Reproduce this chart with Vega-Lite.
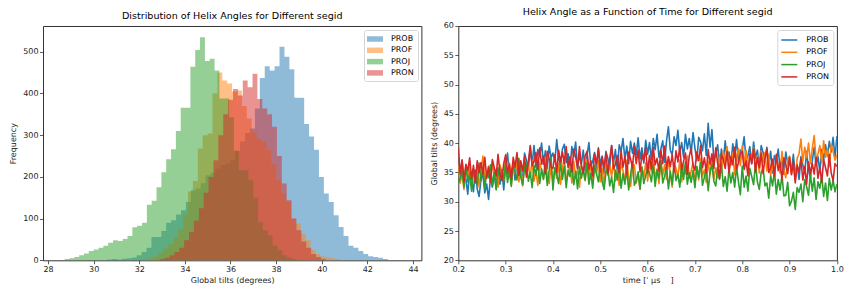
{
  "$schema": "https://vega.github.io/schema/vega-lite/v6.json",
  "padding": {"left": 9, "top": 6, "right": 0, "bottom": 0},
  "spacing": 36.3,
  "bounds": "flush",
  "resolve": {"scale": {"color": "independent"}, "legend": {"color": "independent"}},
  "datasets": {
    "hist": [
      {"s":"PROB","x":30.59,"n":2},{"s":"PROB","x":30.806,"n":3},{"s":"PROB","x":31.022,"n":2},{"s":"PROB","x":31.238,"n":4},{"s":"PROB","x":31.454,"n":5},{"s":"PROB","x":31.67,"n":7},{"s":"PROB","x":31.886,"n":12},{"s":"PROB","x":32.102,"n":20},{"s":"PROB","x":32.318,"n":30},{"s":"PROB","x":32.534,"n":56},
      {"s":"PROB","x":32.75,"n":56},{"s":"PROB","x":32.966,"n":70},{"s":"PROB","x":33.182,"n":90},{"s":"PROB","x":33.398,"n":96},{"s":"PROB","x":33.614,"n":110},{"s":"PROB","x":33.83,"n":120},{"s":"PROB","x":34.046,"n":140},{"s":"PROB","x":34.262,"n":168},{"s":"PROB","x":34.478,"n":172},{"s":"PROB","x":34.694,"n":185},
      {"s":"PROB","x":34.91,"n":204},{"s":"PROB","x":35.126,"n":210},{"s":"PROB","x":35.342,"n":220},{"s":"PROB","x":35.558,"n":228},{"s":"PROB","x":35.774,"n":232},{"s":"PROB","x":35.99,"n":240},{"s":"PROB","x":36.206,"n":262},{"s":"PROB","x":36.422,"n":285},{"s":"PROB","x":36.638,"n":305},{"s":"PROB","x":36.854,"n":316},
      {"s":"PROB","x":37.07,"n":364},{"s":"PROB","x":37.286,"n":437},{"s":"PROB","x":37.502,"n":465},{"s":"PROB","x":37.718,"n":455},{"s":"PROB","x":37.934,"n":465},{"s":"PROB","x":38.15,"n":512},{"s":"PROB","x":38.366,"n":488},{"s":"PROB","x":38.582,"n":458},{"s":"PROB","x":38.798,"n":390},{"s":"PROB","x":39.014,"n":390},
      {"s":"PROB","x":39.23,"n":327},{"s":"PROB","x":39.446,"n":297},{"s":"PROB","x":39.662,"n":265},{"s":"PROB","x":39.878,"n":200},{"s":"PROB","x":40.094,"n":160},{"s":"PROB","x":40.31,"n":140},{"s":"PROB","x":40.526,"n":108},{"s":"PROB","x":40.742,"n":80},{"s":"PROB","x":40.958,"n":58},{"s":"PROB","x":41.174,"n":35},
      {"s":"PROB","x":41.39,"n":30},{"s":"PROB","x":41.606,"n":22},{"s":"PROB","x":41.822,"n":15},{"s":"PROB","x":42.038,"n":10},{"s":"PROB","x":42.254,"n":8},{"s":"PROB","x":42.47,"n":6},{"s":"PROB","x":42.686,"n":3},{"s":"PROB","x":42.902,"n":1},{"s":"PROB","x":43.118,"n":1},

      {"s":"PROF","x":32.2,"n":2},{"s":"PROF","x":32.415,"n":5},{"s":"PROF","x":32.63,"n":10},{"s":"PROF","x":32.845,"n":18},{"s":"PROF","x":33.06,"n":28},{"s":"PROF","x":33.275,"n":40},{"s":"PROF","x":33.49,"n":55},{"s":"PROF","x":33.705,"n":75},{"s":"PROF","x":33.92,"n":110},{"s":"PROF","x":34.135,"n":165},
      {"s":"PROF","x":34.35,"n":190},{"s":"PROF","x":34.565,"n":268},{"s":"PROF","x":34.78,"n":300},{"s":"PROF","x":34.995,"n":304},{"s":"PROF","x":35.21,"n":400},{"s":"PROF","x":35.425,"n":450},{"s":"PROF","x":35.64,"n":431},{"s":"PROF","x":35.855,"n":424},{"s":"PROF","x":36.07,"n":405},{"s":"PROF","x":36.285,"n":407},
      {"s":"PROF","x":36.5,"n":370},{"s":"PROF","x":36.715,"n":340},{"s":"PROF","x":36.93,"n":307},{"s":"PROF","x":37.145,"n":290},{"s":"PROF","x":37.36,"n":284},{"s":"PROF","x":37.575,"n":264},{"s":"PROF","x":37.79,"n":230},{"s":"PROF","x":38.005,"n":192},{"s":"PROF","x":38.22,"n":160},{"s":"PROF","x":38.435,"n":140},
      {"s":"PROF","x":38.65,"n":100},{"s":"PROF","x":38.865,"n":88},{"s":"PROF","x":39.08,"n":64},{"s":"PROF","x":39.295,"n":48},{"s":"PROF","x":39.51,"n":25},{"s":"PROF","x":39.725,"n":15},{"s":"PROF","x":39.94,"n":9},{"s":"PROF","x":40.155,"n":7},{"s":"PROF","x":40.37,"n":5},{"s":"PROF","x":40.585,"n":3},{"s":"PROF","x":40.8,"n":1},{"s":"PROF","x":41.015,"n":1},

      {"s":"PROJ","x":28.73,"n":3},{"s":"PROJ","x":28.942,"n":5},{"s":"PROJ","x":29.154,"n":8},{"s":"PROJ","x":29.366,"n":12},{"s":"PROJ","x":29.578,"n":16},{"s":"PROJ","x":29.79,"n":22},{"s":"PROJ","x":30.002,"n":26},{"s":"PROJ","x":30.214,"n":30},{"s":"PROJ","x":30.426,"n":35},{"s":"PROJ","x":30.638,"n":42},
      {"s":"PROJ","x":30.85,"n":48},{"s":"PROJ","x":31.062,"n":46},{"s":"PROJ","x":31.274,"n":51},{"s":"PROJ","x":31.486,"n":58},{"s":"PROJ","x":31.698,"n":79},{"s":"PROJ","x":31.91,"n":83},{"s":"PROJ","x":32.122,"n":90},{"s":"PROJ","x":32.334,"n":133},{"s":"PROJ","x":32.546,"n":143},{"s":"PROJ","x":32.758,"n":175},
      {"s":"PROJ","x":32.97,"n":211},{"s":"PROJ","x":33.182,"n":242},{"s":"PROJ","x":33.394,"n":266},{"s":"PROJ","x":33.606,"n":310},{"s":"PROJ","x":33.818,"n":366},{"s":"PROJ","x":34.03,"n":366},{"s":"PROJ","x":34.242,"n":464},{"s":"PROJ","x":34.454,"n":504},{"s":"PROJ","x":34.666,"n":535},{"s":"PROJ","x":34.878,"n":478},
      {"s":"PROJ","x":35.09,"n":483},{"s":"PROJ","x":35.302,"n":455},{"s":"PROJ","x":35.514,"n":388},{"s":"PROJ","x":35.726,"n":388},{"s":"PROJ","x":35.938,"n":343},{"s":"PROJ","x":36.15,"n":263},{"s":"PROJ","x":36.362,"n":216},{"s":"PROJ","x":36.574,"n":216},{"s":"PROJ","x":36.786,"n":192},{"s":"PROJ","x":36.998,"n":150},
      {"s":"PROJ","x":37.21,"n":92},{"s":"PROJ","x":37.422,"n":72},{"s":"PROJ","x":37.634,"n":60},{"s":"PROJ","x":37.846,"n":35},{"s":"PROJ","x":38.058,"n":24},{"s":"PROJ","x":38.27,"n":12},{"s":"PROJ","x":38.482,"n":6},{"s":"PROJ","x":38.694,"n":3},{"s":"PROJ","x":38.906,"n":1},{"s":"PROJ","x":39.118,"n":1},

      {"s":"PRON","x":32.9,"n":3},{"s":"PRON","x":33.114,"n":6},{"s":"PRON","x":33.328,"n":12},{"s":"PRON","x":33.542,"n":20},{"s":"PRON","x":33.756,"n":30},{"s":"PRON","x":33.97,"n":48},{"s":"PRON","x":34.184,"n":68},{"s":"PRON","x":34.398,"n":95},{"s":"PRON","x":34.612,"n":125},{"s":"PRON","x":34.826,"n":162},
      {"s":"PRON","x":35.04,"n":200},{"s":"PRON","x":35.254,"n":240},{"s":"PRON","x":35.468,"n":300},{"s":"PRON","x":35.682,"n":350},{"s":"PRON","x":35.896,"n":385},{"s":"PRON","x":36.11,"n":411},{"s":"PRON","x":36.324,"n":395},{"s":"PRON","x":36.538,"n":431},{"s":"PRON","x":36.752,"n":415},{"s":"PRON","x":36.966,"n":447},
      {"s":"PRON","x":37.18,"n":387},{"s":"PRON","x":37.394,"n":364},{"s":"PRON","x":37.608,"n":350},{"s":"PRON","x":37.822,"n":320},{"s":"PRON","x":38.036,"n":250},{"s":"PRON","x":38.25,"n":184},{"s":"PRON","x":38.464,"n":144},{"s":"PRON","x":38.678,"n":100},{"s":"PRON","x":38.892,"n":72},{"s":"PRON","x":39.106,"n":45},
      {"s":"PRON","x":39.32,"n":30},{"s":"PRON","x":39.534,"n":15},{"s":"PRON","x":39.748,"n":8},{"s":"PRON","x":39.962,"n":3},{"s":"PRON","x":40.176,"n":3}
    ],
    "ts": [
      {"t":0.200,"PROB":36.2,"PROF":36.3,"PROJ":33.1,"PRON":39.3},
      {"t":0.204,"PROB":34.2,"PROF":33.2,"PROJ":33.9,"PRON":34.8},
      {"t":0.208,"PROB":37.1,"PROF":34.7,"PROJ":35.4,"PRON":37.1},
      {"t":0.212,"PROB":33.5,"PROF":32.1,"PROJ":32.5,"PRON":33.4},
      {"t":0.216,"PROB":33.9,"PROF":35.9,"PROJ":36.2,"PRON":36.4},
      {"t":0.220,"PROB":31.3,"PROF":34.2,"PROJ":33.4,"PRON":35.3},
      {"t":0.224,"PROB":35.2,"PROF":36.7,"PROJ":34.8,"PRON":37.5},
      {"t":0.228,"PROB":33.8,"PROF":32.8,"PROJ":31.8,"PRON":33.9},
      {"t":0.232,"PROB":31.7,"PROF":35.3,"PROJ":35.6,"PRON":36.2},
      {"t":0.236,"PROB":35.4,"PROF":33.5,"PROJ":34.4,"PRON":33.2},
      {"t":0.240,"PROB":32.2,"PROF":36.0,"PROJ":32.9,"PRON":37.0},
      {"t":0.244,"PROB":30.9,"PROF":32.5,"PROJ":36.6,"PRON":35.0},
      {"t":0.248,"PROB":33.8,"PROF":35.1,"PROJ":33.6,"PRON":36.7},
      {"t":0.252,"PROB":34.6,"PROF":37.8,"PROJ":35.9,"PRON":34.7},
      {"t":0.256,"PROB":31.5,"PROF":33.8,"PROJ":32.2,"PRON":37.6},
      {"t":0.260,"PROB":33.0,"PROF":34.6,"PROJ":35.2,"PRON":34.0},
      {"t":0.264,"PROB":30.4,"PROF":36.1,"PROJ":34.1,"PRON":35.9},
      {"t":0.268,"PROB":34.2,"PROF":33.2,"PROJ":36.3,"PRON":33.3},
      {"t":0.272,"PROB":32.5,"PROF":36.9,"PROJ":32.7,"PRON":37.2},
      {"t":0.276,"PROB":35.0,"PROF":34.1,"PROJ":35.0,"PRON":35.8},
      {"t":0.280,"PROB":32.3,"PROF":35.5,"PROJ":32.0,"PRON":34.4},
      {"t":0.284,"PROB":34.8,"PROF":32.5,"PROJ":35.8,"PRON":38.1},
      {"t":0.288,"PROB":33.0,"PROF":36.3,"PROJ":33.8,"PRON":34.9},
      {"t":0.292,"PROB":35.5,"PROF":35.1,"PROJ":35.5,"PRON":33.6},
      {"t":0.296,"PROB":32.0,"PROF":33.6,"PROJ":33.5,"PRON":36.5},
      {"t":0.300,"PROB":36.1,"PROF":37.3,"PROJ":36.9,"PRON":38.0},
      {"t":0.304,"PROB":38.3,"PROF":34.3,"PROJ":33.3,"PRON":34.9},
      {"t":0.308,"PROB":34.3,"PROF":36.6,"PROJ":35.2,"PRON":36.4},
      {"t":0.312,"PROB":35.1,"PROF":32.9,"PROJ":32.6,"PRON":33.8},
      {"t":0.316,"PROB":36.6,"PROF":35.9,"PROJ":36.5,"PRON":37.6},
      {"t":0.320,"PROB":33.7,"PROF":34.8,"PROJ":35.1,"PRON":35.9},
      {"t":0.324,"PROB":37.4,"PROF":37.0,"PROJ":33.7,"PRON":38.4},
      {"t":0.328,"PROB":34.6,"PROF":33.4,"PROJ":37.4,"PRON":34.5},
      {"t":0.332,"PROB":36.0,"PROF":35.7,"PROJ":34.2,"PRON":37.0},
      {"t":0.336,"PROB":33.0,"PROF":32.7,"PROJ":32.9,"PRON":35.2},
      {"t":0.340,"PROB":38.3,"PROF":36.5,"PROJ":35.8,"PRON":37.7},
      {"t":0.344,"PROB":37.1,"PROF":34.5,"PROJ":36.6,"PRON":34.2},
      {"t":0.348,"PROB":35.6,"PROF":36.2,"PROJ":33.5,"PRON":36.8},
      {"t":0.352,"PROB":39.3,"PROF":34.2,"PROJ":35.0,"PRON":39.6},
      {"t":0.356,"PROB":36.3,"PROF":37.1,"PROJ":32.4,"PRON":36.1},
      {"t":0.360,"PROB":39.6,"PROF":33.5,"PROJ":36.2,"PRON":36.9},
      {"t":0.364,"PROB":35.9,"PROF":35.4,"PROJ":34.5,"PRON":38.4},
      {"t":0.368,"PROB":38.9,"PROF":32.8,"PROJ":37.0,"PRON":35.5},
      {"t":0.372,"PROB":37.8,"PROF":36.7,"PROJ":33.1,"PRON":39.2},
      {"t":0.376,"PROB":40.0,"PROF":35.3,"PROJ":35.6,"PRON":36.4},
      {"t":0.380,"PROB":36.4,"PROF":33.9,"PROJ":33.8,"PRON":37.8},
      {"t":0.384,"PROB":38.7,"PROF":37.6,"PROJ":36.3,"PRON":34.8},
      {"t":0.388,"PROB":35.7,"PROF":34.4,"PROJ":32.8,"PRON":38.6},
      {"t":0.392,"PROB":39.5,"PROF":33.1,"PROJ":35.4,"PRON":37.4},
      {"t":0.396,"PROB":37.5,"PROF":36.0,"PROJ":37.6,"PRON":35.9},
      {"t":0.400,"PROB":38.3,"PROF":33.3,"PROJ":32.0,"PRON":35.7},
      {"t":0.404,"PROB":36.9,"PROF":35.8,"PROJ":35.8,"PRON":38.0},
      {"t":0.408,"PROB":40.6,"PROF":34.0,"PROJ":34.6,"PRON":35.0},
      {"t":0.412,"PROB":37.4,"PROF":36.5,"PROJ":33.1,"PRON":38.8},
      {"t":0.416,"PROB":36.1,"PROF":33.0,"PROJ":36.8,"PRON":36.8},
      {"t":0.420,"PROB":39.0,"PROF":35.6,"PROJ":33.8,"PRON":38.5},
      {"t":0.424,"PROB":39.8,"PROF":37.8,"PROJ":36.1,"PRON":36.5},
      {"t":0.428,"PROB":36.7,"PROF":33.8,"PROJ":32.4,"PRON":39.4},
      {"t":0.432,"PROB":38.2,"PROF":34.6,"PROJ":35.4,"PRON":35.8},
      {"t":0.436,"PROB":35.6,"PROF":36.1,"PROJ":34.3,"PRON":37.7},
      {"t":0.440,"PROB":39.4,"PROF":33.2,"PROJ":36.5,"PRON":35.1},
      {"t":0.444,"PROB":37.7,"PROF":36.9,"PROJ":32.9,"PRON":39.0},
      {"t":0.448,"PROB":40.2,"PROF":34.1,"PROJ":35.2,"PRON":37.6},
      {"t":0.452,"PROB":35.6,"PROF":35.5,"PROJ":32.2,"PRON":35.7},
      {"t":0.456,"PROB":38.1,"PROF":32.5,"PROJ":36.0,"PRON":39.4},
      {"t":0.460,"PROB":36.3,"PROF":36.3,"PROJ":34.0,"PRON":36.2},
      {"t":0.464,"PROB":38.8,"PROF":35.1,"PROJ":35.7,"PRON":34.9},
      {"t":0.468,"PROB":35.3,"PROF":33.6,"PROJ":33.7,"PRON":37.8},
      {"t":0.472,"PROB":37.9,"PROF":37.3,"PROJ":36.6,"PRON":38.6},
      {"t":0.476,"PROB":40.1,"PROF":34.3,"PROJ":33.0,"PRON":35.5},
      {"t":0.480,"PROB":36.1,"PROF":36.6,"PROJ":34.9,"PRON":37.0},
      {"t":0.484,"PROB":36.9,"PROF":32.9,"PROJ":32.3,"PRON":34.4},
      {"t":0.488,"PROB":38.4,"PROF":35.9,"PROJ":36.2,"PRON":38.2},
      {"t":0.492,"PROB":35.5,"PROF":34.8,"PROJ":34.8,"PRON":36.5},
      {"t":0.496,"PROB":39.2,"PROF":37.0,"PROJ":33.4,"PRON":39.0},
      {"t":0.500,"PROB":36.4,"PROF":33.4,"PROJ":36.6,"PRON":35.1},
      {"t":0.504,"PROB":37.8,"PROF":35.7,"PROJ":33.4,"PRON":37.6},
      {"t":0.508,"PROB":34.8,"PROF":32.7,"PROJ":32.1,"PRON":35.8},
      {"t":0.512,"PROB":38.6,"PROF":36.5,"PROJ":35.0,"PRON":38.3},
      {"t":0.516,"PROB":37.4,"PROF":34.5,"PROJ":35.8,"PRON":34.8},
      {"t":0.520,"PROB":35.9,"PROF":36.2,"PROJ":32.7,"PRON":37.4},
      {"t":0.524,"PROB":39.6,"PROF":34.2,"PROJ":34.2,"PRON":39.6},
      {"t":0.528,"PROB":36.6,"PROF":37.1,"PROJ":31.6,"PRON":35.6},
      {"t":0.532,"PROB":38.9,"PROF":33.5,"PROJ":35.4,"PRON":36.4},
      {"t":0.536,"PROB":35.2,"PROF":35.4,"PROJ":33.7,"PRON":37.9},
      {"t":0.540,"PROB":39.7,"PROF":32.8,"PROJ":36.2,"PRON":35.0},
      {"t":0.544,"PROB":38.6,"PROF":36.7,"PROJ":32.3,"PRON":38.7},
      {"t":0.548,"PROB":40.8,"PROF":35.3,"PROJ":34.8,"PRON":35.9},
      {"t":0.552,"PROB":37.2,"PROF":33.4,"PROJ":33.0,"PRON":37.7},
      {"t":0.556,"PROB":39.5,"PROF":37.1,"PROJ":35.5,"PRON":34.7},
      {"t":0.560,"PROB":36.5,"PROF":33.9,"PROJ":32.0,"PRON":38.5},
      {"t":0.564,"PROB":40.3,"PROF":32.6,"PROJ":34.6,"PRON":37.3},
      {"t":0.568,"PROB":38.3,"PROF":35.5,"PROJ":36.8,"PRON":35.8},
      {"t":0.572,"PROB":40.0,"PROF":36.3,"PROJ":32.8,"PRON":39.5},
      {"t":0.576,"PROB":38.0,"PROF":33.2,"PROJ":33.6,"PRON":36.5},
      {"t":0.580,"PROB":40.9,"PROF":34.7,"PROJ":35.1,"PRON":38.8},
      {"t":0.584,"PROB":37.3,"PROF":32.1,"PROJ":32.2,"PRON":35.1},
      {"t":0.588,"PROB":39.2,"PROF":35.9,"PROJ":35.9,"PRON":38.1},
      {"t":0.592,"PROB":36.6,"PROF":34.2,"PROJ":33.1,"PRON":37.0},
      {"t":0.596,"PROB":40.5,"PROF":36.7,"PROJ":34.5,"PRON":39.2},
      {"t":0.600,"PROB":38.1,"PROF":33.5,"PROJ":35.7,"PRON":34.9},
      {"t":0.604,"PROB":40.1,"PROF":36.6,"PROJ":34.9,"PRON":37.9},
      {"t":0.608,"PROB":37.2,"PROF":35.1,"PROJ":33.4,"PRON":35.6},
      {"t":0.612,"PROB":40.8,"PROF":37.7,"PROJ":36.3,"PRON":39.3},
      {"t":0.616,"PROB":38.9,"PROF":33.9,"PROJ":32.6,"PRON":36.3},
      {"t":0.620,"PROB":41.5,"PROF":35.6,"PROJ":35.4,"PRON":37.4},
      {"t":0.624,"PROB":37.6,"PROF":33.1,"PROJ":34.0,"PRON":35.2},
      {"t":0.628,"PROB":39.0,"PROF":37.0,"PROJ":37.0,"PRON":38.8},
      {"t":0.632,"PROB":40.4,"PROF":34.5,"PROJ":33.2,"PRON":36.5},
      {"t":0.636,"PROB":36.7,"PROF":36.3,"PROJ":34.4,"PRON":39.5},
      {"t":0.640,"PROB":40.4,"PROF":33.8,"PROJ":35.9,"PRON":35.7},
      {"t":0.644,"PROB":42.8,"PROF":37.3,"PROJ":32.2,"PRON":37.7},
      {"t":0.648,"PROB":38.8,"PROF":34.7,"PROJ":35.2,"PRON":36.0},
      {"t":0.652,"PROB":38.0,"PROF":32.5,"PROJ":32.9,"PRON":38.0},
      {"t":0.656,"PROB":41.1,"PROF":36.5,"PROJ":36.6,"PRON":35.1},
      {"t":0.660,"PROB":39.6,"PROF":35.7,"PROJ":33.6,"PRON":38.7},
      {"t":0.664,"PROB":42.2,"PROF":34.2,"PROJ":34.7,"PRON":36.8},
      {"t":0.668,"PROB":38.4,"PROF":37.1,"PROJ":32.5,"PRON":39.4},
      {"t":0.672,"PROB":40.1,"PROF":33.4,"PROJ":36.1,"PRON":35.5},
      {"t":0.676,"PROB":37.6,"PROF":36.2,"PROJ":33.8,"PRON":36.9},
      {"t":0.680,"PROB":41.5,"PROF":34.8,"PROJ":36.8,"PRON":38.3},
      {"t":0.684,"PROB":39.0,"PROF":37.8,"PROJ":33.0,"PRON":34.6},
      {"t":0.688,"PROB":40.8,"PROF":34.0,"PROJ":35.0,"PRON":37.8},
      {"t":0.692,"PROB":38.3,"PROF":35.2,"PROJ":33.3,"PRON":39.1},
      {"t":0.696,"PROB":41.8,"PROF":36.7,"PROJ":35.3,"PRON":36.2},
      {"t":0.700,"PROB":39.2,"PROF":33.0,"PROJ":32.4,"PRON":35.4},
      {"t":0.704,"PROB":37.0,"PROF":36.0,"PROJ":36.0,"PRON":38.5},
      {"t":0.708,"PROB":41.0,"PROF":33.7,"PROJ":34.1,"PRON":37.0},
      {"t":0.712,"PROB":40.2,"PROF":37.4,"PROJ":36.7,"PRON":39.6},
      {"t":0.716,"PROB":38.7,"PROF":34.4,"PROJ":32.8,"PRON":35.8},
      {"t":0.720,"PROB":41.6,"PROF":35.5,"PROJ":34.2,"PRON":37.5},
      {"t":0.724,"PROB":37.9,"PROF":33.3,"PROJ":35.6,"PRON":35.0},
      {"t":0.728,"PROB":43.4,"PROF":36.9,"PROJ":31.9,"PRON":38.9},
      {"t":0.732,"PROB":39.3,"PROF":34.6,"PROJ":35.1,"PRON":36.4},
      {"t":0.736,"PROB":42.3,"PROF":37.6,"PROJ":36.4,"PRON":38.2},
      {"t":0.740,"PROB":37.0,"PROF":33.8,"PROJ":33.5,"PRON":35.7},
      {"t":0.744,"PROB":38.2,"PROF":35.8,"PROJ":32.7,"PRON":39.2},
      {"t":0.748,"PROB":39.7,"PROF":34.1,"PROJ":35.8,"PRON":36.6},
      {"t":0.752,"PROB":36.0,"PROF":38.0,"PROJ":33.8,"PRON":34.0},
      {"t":0.756,"PROB":39.0,"PROF":35.1,"PROJ":36.4,"PRON":38.0},
      {"t":0.760,"PROB":36.7,"PROF":38.7,"PROJ":32.6,"PRON":37.2},
      {"t":0.764,"PROB":40.4,"PROF":36.8,"PROJ":34.3,"PRON":35.7},
      {"t":0.768,"PROB":37.4,"PROF":39.4,"PROJ":31.8,"PRON":38.6},
      {"t":0.772,"PROB":38.5,"PROF":35.5,"PROJ":35.7,"PRON":34.9},
      {"t":0.776,"PROB":36.3,"PROF":36.9,"PROJ":33.2,"PRON":37.7},
      {"t":0.780,"PROB":39.9,"PROF":38.3,"PROJ":35.0,"PRON":36.3},
      {"t":0.784,"PROB":37.6,"PROF":34.6,"PROJ":32.5,"PRON":39.3},
      {"t":0.788,"PROB":40.6,"PROF":37.8,"PROJ":36.0,"PRON":35.5},
      {"t":0.792,"PROB":36.8,"PROF":39.1,"PROJ":33.4,"PRON":36.7},
      {"t":0.796,"PROB":38.8,"PROF":36.2,"PROJ":31.2,"PRON":38.2},
      {"t":0.800,"PROB":38.9,"PROF":39.5,"PROJ":36.1,"PRON":38.6},
      {"t":0.804,"PROB":41.1,"PROF":36.5,"PROJ":32.5,"PRON":35.5},
      {"t":0.808,"PROB":37.1,"PROF":38.8,"PROJ":34.4,"PRON":37.0},
      {"t":0.812,"PROB":37.9,"PROF":35.1,"PROJ":31.8,"PRON":34.4},
      {"t":0.816,"PROB":39.4,"PROF":38.1,"PROJ":35.7,"PRON":38.2},
      {"t":0.820,"PROB":36.5,"PROF":37.0,"PROJ":34.3,"PRON":36.5},
      {"t":0.824,"PROB":40.2,"PROF":39.2,"PROJ":32.9,"PRON":39.0},
      {"t":0.828,"PROB":37.4,"PROF":35.6,"PROJ":36.6,"PRON":35.1},
      {"t":0.832,"PROB":38.8,"PROF":37.9,"PROJ":33.4,"PRON":37.6},
      {"t":0.836,"PROB":35.8,"PROF":34.9,"PROJ":32.1,"PRON":35.8},
      {"t":0.840,"PROB":39.6,"PROF":38.7,"PROJ":35.0,"PRON":38.3},
      {"t":0.844,"PROB":38.4,"PROF":36.7,"PROJ":35.8,"PRON":34.8},
      {"t":0.848,"PROB":36.9,"PROF":38.4,"PROJ":32.7,"PRON":37.4},
      {"t":0.852,"PROB":39.3,"PROF":35.2,"PROJ":33.2,"PRON":39.0},
      {"t":0.856,"PROB":36.3,"PROF":38.1,"PROJ":30.6,"PRON":35.0},
      {"t":0.860,"PROB":38.6,"PROF":34.5,"PROJ":34.4,"PRON":35.8},
      {"t":0.864,"PROB":34.9,"PROF":36.4,"PROJ":32.7,"PRON":37.3},
      {"t":0.868,"PROB":37.9,"PROF":33.8,"PROJ":35.2,"PRON":34.4},
      {"t":0.872,"PROB":36.8,"PROF":37.7,"PROJ":31.3,"PRON":38.1},
      {"t":0.876,"PROB":39.0,"PROF":36.3,"PROJ":33.8,"PRON":35.3},
      {"t":0.880,"PROB":35.4,"PROF":34.9,"PROJ":32.0,"PRON":36.7},
      {"t":0.884,"PROB":37.7,"PROF":38.6,"PROJ":34.5,"PRON":33.7},
      {"t":0.888,"PROB":34.7,"PROF":35.4,"PROJ":31.0,"PRON":37.5},
      {"t":0.892,"PROB":38.5,"PROF":34.1,"PROJ":31.1,"PRON":36.3},
      {"t":0.896,"PROB":36.5,"PROF":37.0,"PROJ":33.3,"PRON":34.8},
      {"t":0.900,"PROB":37.2,"PROF":37.8,"PROJ":29.3,"PRON":37.6},
      {"t":0.904,"PROB":35.2,"PROF":34.7,"PROJ":30.1,"PRON":34.6},
      {"t":0.908,"PROB":38.1,"PROF":36.2,"PROJ":31.6,"PRON":36.9},
      {"t":0.912,"PROB":34.5,"PROF":33.6,"PROJ":28.7,"PRON":33.2},
      {"t":0.916,"PROB":36.4,"PROF":37.4,"PROJ":32.4,"PRON":36.2},
      {"t":0.920,"PROB":33.8,"PROF":38.2,"PROJ":31.6,"PRON":35.1},
      {"t":0.924,"PROB":37.7,"PROF":40.7,"PROJ":33.0,"PRON":37.3},
      {"t":0.928,"PROB":36.3,"PROF":36.8,"PROJ":30.0,"PRON":33.7},
      {"t":0.932,"PROB":34.9,"PROF":39.3,"PROJ":33.8,"PRON":36.0},
      {"t":0.936,"PROB":38.6,"PROF":37.5,"PROJ":32.6,"PRON":33.0},
      {"t":0.940,"PROB":35.4,"PROF":40.0,"PROJ":31.1,"PRON":36.8},
      {"t":0.944,"PROB":34.1,"PROF":36.5,"PROJ":34.8,"PRON":34.8},
      {"t":0.948,"PROB":37.0,"PROF":39.1,"PROJ":31.8,"PRON":36.5},
      {"t":0.952,"PROB":39.3,"PROF":41.3,"PROJ":34.1,"PRON":34.7},
      {"t":0.956,"PROB":36.2,"PROF":37.3,"PROJ":30.4,"PRON":37.6},
      {"t":0.960,"PROB":37.7,"PROF":38.1,"PROJ":33.4,"PRON":34.0},
      {"t":0.964,"PROB":35.1,"PROF":39.6,"PROJ":32.3,"PRON":35.9},
      {"t":0.968,"PROB":38.9,"PROF":36.7,"PROJ":34.5,"PRON":33.3},
      {"t":0.972,"PROB":37.2,"PROF":40.4,"PROJ":30.9,"PRON":37.2},
      {"t":0.976,"PROB":39.7,"PROF":37.6,"PROJ":33.2,"PRON":35.8},
      {"t":0.980,"PROB":37.8,"PROF":39.0,"PROJ":30.2,"PRON":34.4},
      {"t":0.984,"PROB":40.3,"PROF":36.0,"PROJ":34.0,"PRON":38.1},
      {"t":0.988,"PROB":38.5,"PROF":39.8,"PROJ":32.0,"PRON":34.9},
      {"t":0.992,"PROB":41.0,"PROF":38.6,"PROJ":33.7,"PRON":33.6},
      {"t":0.996,"PROB":37.5,"PROF":37.1,"PROJ":31.7,"PRON":36.5},
      {"t":1.000,"PROB":41.2,"PROF":38.0,"PROJ":33.0,"PRON":36.0}
    ]
  },
  "hconcat": [
    {
      "width": 378.4,
      "height": 234.3,
      "title": {"text": "Distribution of Helix Angles for Different segid"},
      "data": {"name": "hist"},
      "mark": {"type": "area", "opacity": 0.5, "interpolate": "step-after"},
      "encoding": {
        "x": {"field": "x", "type": "quantitative", "scale": {"domain": [27.78, 44.37], "nice": false, "zero": false},
              "axis": {"title": "Global tilts (degrees)", "values": [28,30,32,34,36,38,40,42,44], "format": "d"}},
        "y": {"field": "n", "type": "quantitative", "stack": null, "scale": {"domain": [0, 561.75], "nice": false},
              "axis": {"title": "Frequency", "values": [0,100,200,300,400,500], "titlePadding": 5}},
        "color": {"field": "s", "type": "nominal",
                  "scale": {"domain": ["PROB","PROF","PROJ","PRON"], "range": ["#1f77b4","#ff7f0e","#2ca02c","#d62728"]},
                  "legend": {"title": null, "orient": "top-right", "offset": 3.5, "padding": 4,
                             "fillColor": "white", "strokeColor": "#d6d6d6", "cornerRadius": 2,
                             "symbolType": "M-1.2,-0.55H2V0.55H-1.2Z", "symbolSize": 100, "symbolOpacity": 0.5,
                             "symbolStrokeWidth": 0, "labelFontSize": 8, "labelOffset": 13, "rowPadding": 2.3, "labelColor": "#000"}}
      }
    },
    {
      "width": 378.6,
      "height": 234.3,
      "title": {"text": "Helix Angle as a Function of Time for Different segid"},
      "data": {"name": "ts"},
      "transform": [{"fold": ["PROB","PROF","PROJ","PRON"], "as": ["segid","angle"]}],
      "mark": {"type": "line", "strokeWidth": 1.6, "strokeJoin": "round", "clip": true},
      "encoding": {
        "x": {"field": "t", "type": "quantitative", "scale": {"domain": [0.2, 1.0], "nice": false, "zero": false},
              "axis": {"title": "time [ˈ µs\u00a0\u00a0\u00a0 ]", "values": [0.2,0.3,0.4,0.5,0.6,0.7,0.8,0.9,1.0], "format": ".1f"}},
        "y": {"field": "angle", "type": "quantitative", "scale": {"domain": [20, 60], "nice": false, "zero": false},
              "axis": {"title": "Global tilts (degrees)", "values": [20,25,30,35,40,45,50,55,60], "titlePadding": 5}},
        "color": {"field": "segid", "type": "nominal",
                  "scale": {"domain": ["PROB","PROF","PROJ","PRON"], "range": ["#1f77b4","#ff7f0e","#2ca02c","#d62728"]},
                  "legend": {"title": null, "orient": "top-right", "offset": 3.5, "padding": 4,
                             "fillColor": "white", "strokeColor": "#d6d6d6", "cornerRadius": 2,
                             "symbolType": "M-1.2,0H2", "symbolSize": 100, "symbolStrokeWidth": 1.5,
                             "labelFontSize": 8, "labelOffset": 13, "rowPadding": 2.3, "labelColor": "#000"}}
      }
    }
  ],
  "config": {
    "font": "DejaVu Sans",
    "background": "white",
    "view": {"stroke": "#333", "strokeWidth": 1},
    "axis": {"grid": false, "domain": false, "tickColor": "#333", "tickSize": 3.5, "tickWidth": 0.8,
             "labelFontSize": 8, "labelColor": "#222", "labelPadding": 1.5, "labelFlush": false,
             "titleFontSize": 8, "titleFontWeight": "normal", "titleColor": "#222"},
    "axisX": {"titlePadding": 3},
    "title": {"fontSize": 9.6, "fontWeight": "normal", "color": "#000", "offset": 5, "frame": "group", "anchor": "middle"}
  }
}
